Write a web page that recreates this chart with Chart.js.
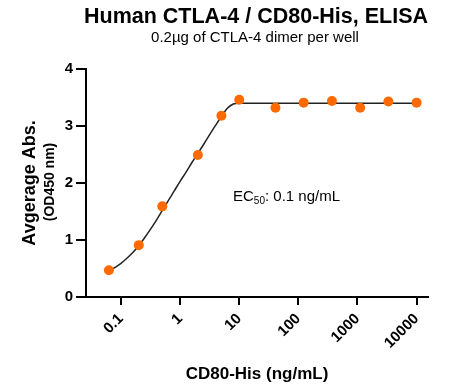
<!DOCTYPE html>
<html>
<head>
<meta charset="utf-8">
<script src="https://cdn.jsdelivr.net/npm/chart.js@4.4.1/dist/chart.umd.min.js"></script>
<style>
  html, body { margin: 0; padding: 0; background: #fff; }
  #wrap { width: 455px; height: 388px; position: relative; }
</style>
</head>
<body>
<div id="wrap"><canvas id="c" width="455" height="388"></canvas></div>
<script>
// ---- data ----
const concentrations = [0.0625, 0.2, 0.5, 2, 5, 10, 41, 123, 370, 1111, 3333, 10000];
const absorbance     = [0.47, 0.91, 1.59, 2.49, 3.18, 3.46, 3.32, 3.41, 3.44, 3.32, 3.43, 3.41];
// fitted curve
const fitX = [0.0631, 0.0794, 0.1, 0.1259, 0.1585, 0.1995, 0.2512, 0.3162, 0.3981, 0.5012, 0.631, 0.7943,
              1, 1.259, 1.585, 1.995, 2.512, 3.162, 3.981, 5.012, 6.31, 7.943, 10, 100, 1000, 10000];
const fitY = [0.46, 0.52, 0.59, 0.68, 0.78, 0.90, 1.04, 1.19, 1.35, 1.52, 1.69, 1.86,
              2.03, 2.19, 2.36, 2.52, 2.68, 2.85, 3.01, 3.17, 3.31, 3.385, 3.40, 3.40, 3.40, 3.40];
const xTickValues = [0.1, 1, 10, 100, 1000, 10000];
const xTickLabels = ['0.1', '1', '10', '100', '1000', '10000'];
const yTickValues = [0, 1, 2, 3, 4];

const FONT = "'Liberation Sans', Arial, Helvetica, sans-serif";

const textPlugin = {
  id: 'texts',
  afterDraw(chart) {
    const ctx = chart.ctx;
    ctx.save();
    ctx.fillStyle = '#000';
    ctx.textAlign = 'center';
    ctx.textBaseline = 'alphabetic';
    ctx.font = 'bold 21.5px ' + FONT;
    ctx.fillText('Human CTLA-4 / CD80-His, ELISA', 256, 23);
    ctx.font = '15px ' + FONT;
    ctx.fillText('0.2\u00b5g of CTLA-4 dimer per well', 255, 42);
    ctx.font = 'bold 17px ' + FONT;
    ctx.fillText('CD80-His (ng/mL)', 257, 379);
    // y title
    ctx.save();
    ctx.translate(35, 183);
    ctx.rotate(-Math.PI / 2);
    ctx.font = 'bold 18px ' + FONT;
    ctx.fillText('Avgerage Abs.', 0, 0);
    ctx.restore();
    ctx.save();
    ctx.translate(54, 182);
    ctx.rotate(-Math.PI / 2);
    ctx.font = 'bold 14px ' + FONT;
    ctx.fillText('(OD450 nm)', 0, 0);
    ctx.restore();
    // EC50 annotation
    ctx.textAlign = 'left';
    let x = 233;
    ctx.font = '15px ' + FONT;
    ctx.fillText('EC', x, 201);
    x += ctx.measureText('EC').width;
    ctx.font = '10px ' + FONT;
    ctx.fillText('50', x, 204);
    x += ctx.measureText('50').width;
    ctx.font = '15px ' + FONT;
    ctx.fillText(': 0.1 ng/mL', x, 201);
    ctx.restore();
  }
};

new Chart(document.getElementById('c'), {
  type: 'scatter',
  data: {
    datasets: [
      {
        label: 'Measured',
        data: concentrations.map((c, i) => ({ x: c, y: absorbance[i] })),
        backgroundColor: '#ff6a00',
        borderWidth: 0,
        pointRadius: 5,
        pointHoverRadius: 5,
        showLine: false
      },
      {
        label: 'Fit',
        data: fitX.map((c, i) => ({ x: c, y: fitY[i] })),
        showLine: true,
        borderColor: '#222',
        borderWidth: 1.5,
        pointRadius: 0,
        cubicInterpolationMode: 'monotone',
        fill: false
      }
    ]
  },
  options: {
    responsive: false,
    animation: false,
    events: [],
    layout: { padding: { top: 69, right: 27, left: 0, bottom: 0 } },
    plugins: { legend: { display: false }, tooltip: { enabled: false }, title: { display: false } },
    scales: {
      x: {
        type: 'logarithmic',
        position: 'bottom',
        min: 0.0256,
        max: 15600,
        afterBuildTicks: (s) => { s.ticks = xTickValues.map(v => ({ value: v })); },
        afterFit: (s) => { s.height = 91; },
        ticks: {
          autoSkip: false,
          minRotation: 45,
          maxRotation: 45,
          padding: 5,
          color: '#000',
          font: { family: FONT, size: 15, weight: 'bold' },
          callback: (v, i) => xTickLabels[i]
        },
        grid: { display: true, drawOnChartArea: false, drawTicks: true, tickLength: 8, color: '#000', lineWidth: 2 },
        border: { display: true, color: '#000', width: 2 }
      },
      y: {
        min: 0,
        max: 4,
        afterBuildTicks: (s) => { s.ticks = yTickValues.map(v => ({ value: v })); },
        afterFit: (s) => { s.width = 86; },
        ticks: {
          padding: 3,
          color: '#000',
          font: { family: FONT, size: 15, weight: 'bold' },
          callback: (v) => String(v)
        },
        grid: { display: true, drawOnChartArea: false, drawTicks: true, tickLength: 10, color: '#000', lineWidth: 2 },
        border: { display: true, color: '#000', width: 2 }
      }
    }
  },
  plugins: [textPlugin]
});
</script>
</body>
</html>
